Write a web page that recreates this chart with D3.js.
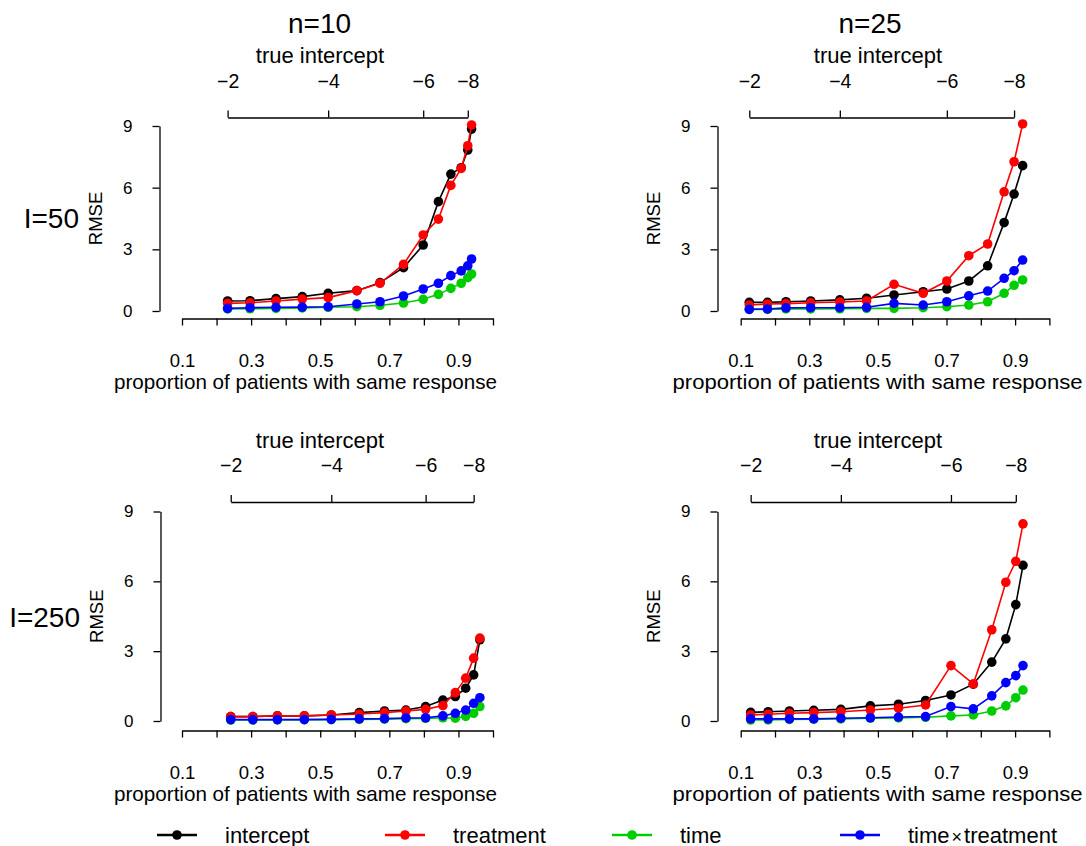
<!DOCTYPE html>
<html><head><meta charset="utf-8">
<script src="https://cdn.jsdelivr.net/npm/d3@7"></script>
<style>
body{margin:0;background:#fff}
text{font-family:"Liberation Sans",Arial,Helvetica,sans-serif;fill:#000}
</style>
</head><body>
<svg id="chart" width="1086" height="846"></svg>
<script>
// ---------------- data ----------------
const seriesNames = ["intercept", "treatment", "time", "time×treatment"];
const seriesColors = ["#000000", "#FF0000", "#00CD00", "#0000FF"];
const trueIntercepts = [-2, -2.5, -3, -3.5, -4, -4.5, -5, -5.5, -6, -6.5, -7, -7.5, -8, -8.5];
const topTickValues = [-2, -4, -6, -8];
const xTickValues = [0.1, 0.2, 0.3, 0.4, 0.5, 0.6, 0.7, 0.8, 0.9, 1.0];
const xTickLabels = [0.1, 0.3, 0.5, 0.7, 0.9];
const yTickValues = [0, 3, 6, 9];
const columnTitles = ["n=10", "n=25"];
const rowTitles = ["I=50", "I=250"];

// proportion of patients with same response, per panel
const propN10I50  = [0.232,0.297,0.372,0.448,0.523,0.606,0.673,0.741,0.798,0.842,0.878,0.908,0.927,0.938];
const propN25I50  = [0.125,0.178,0.232,0.304,0.389,0.467,0.547,0.632,0.701,0.765,0.820,0.868,0.897,0.922];
const propN10I250 = [0.241,0.305,0.376,0.454,0.532,0.613,0.686,0.748,0.805,0.855,0.891,0.921,0.944,0.962];
const propN25I250 = [0.129,0.180,0.242,0.313,0.392,0.478,0.560,0.639,0.713,0.778,0.832,0.873,0.902,0.923];

// RMSE values: [intercept, treatment, time, time x treatment]
const rmseN10I50 = [
  [0.49,0.50,0.60,0.70,0.86,0.99,1.38,2.11,3.21,5.32,6.66,6.97,7.83,8.85],
  [0.37,0.40,0.49,0.58,0.65,0.99,1.35,2.27,3.70,4.47,6.11,6.94,8.04,9.05],
  [0.10,0.11,0.13,0.15,0.18,0.21,0.28,0.39,0.57,0.81,1.10,1.35,1.62,1.80],
  [0.13,0.16,0.18,0.19,0.21,0.34,0.45,0.73,1.07,1.35,1.72,1.95,2.20,2.53]
];
const rmseN25I50 = [
  [0.42,0.42,0.45,0.49,0.54,0.62,0.78,0.94,1.07,1.46,2.20,4.30,5.69,7.07],
  [0.29,0.34,0.36,0.40,0.44,0.49,1.30,0.86,1.46,2.69,3.26,5.80,7.26,9.10],
  [0.08,0.08,0.10,0.10,0.11,0.13,0.13,0.16,0.21,0.29,0.45,0.86,1.25,1.51],
  [0.08,0.10,0.15,0.16,0.16,0.18,0.37,0.29,0.45,0.74,0.97,1.59,1.96,2.48]
];
const rmseN10I250 = [
  [0.19,0.19,0.22,0.22,0.26,0.36,0.43,0.47,0.62,0.90,1.05,1.41,1.98,3.49],
  [0.19,0.19,0.22,0.22,0.26,0.30,0.36,0.43,0.50,0.66,1.22,1.84,2.70,3.56],
  [0.04,0.04,0.05,0.06,0.06,0.07,0.08,0.10,0.11,0.14,0.12,0.20,0.33,0.62],
  [0.06,0.06,0.06,0.06,0.07,0.09,0.10,0.13,0.14,0.22,0.33,0.47,0.76,1.00]
];
const rmseN25I250 = [
  [0.37,0.40,0.43,0.46,0.50,0.65,0.72,0.88,1.12,1.58,2.53,3.53,5.00,6.69],
  [0.26,0.29,0.33,0.36,0.40,0.47,0.55,0.69,2.38,1.59,3.92,5.96,6.86,8.47],
  [0.04,0.05,0.07,0.08,0.09,0.12,0.13,0.16,0.22,0.26,0.43,0.65,1.00,1.33],
  [0.09,0.09,0.09,0.09,0.12,0.14,0.17,0.19,0.62,0.52,1.08,1.65,1.95,2.38]
];

// ---------------- layout ----------------
const panels = [
  {prop: propN10I50,  rmse: rmseN10I50,  xr: [182, 493],      yr: [311, 126],   yAxisX: 159.5, xAxisY: 318.5, topY: 117.5, tiX: 320, xtX: 305.5, xtW: 383},
  {prop: propN25I50,  rmse: rmseN25I50,  xr: [740.7, 1049.4], yr: [311, 126],   yAxisX: 717.5, xAxisY: 318.5, topY: 117.5, tiX: 878, xtX: 877.5, xtW: 410},
  {prop: propN10I250, rmse: rmseN10I250, xr: [182, 493],      yr: [721, 511.5], yAxisX: 160.5, xAxisY: 730.5, topY: 502,   tiX: 320, xtX: 305.5, xtW: 383},
  {prop: propN25I250, rmse: rmseN25I250, xr: [740.7, 1049.4], yr: [721, 511.5], yAxisX: 717.5, xAxisY: 730.5, topY: 502,   tiX: 878, xtX: 877.5, xtW: 410}
];

const svg = d3.select("#chart");
svg.append("rect").attr("width", 1086).attr("height", 846).attr("fill", "#fff");

function styleAxis(g, fs) {
  g.select(".domain").attr("stroke", "#000").attr("stroke-width", 1.3);
  g.selectAll(".tick line").attr("stroke", "#000").attr("stroke-width", 1.3);
  g.selectAll(".tick text").attr("fill", "#000").style("font-family", '"Liberation Sans",Arial,sans-serif').style("font-size", fs + "px");
}

panels.forEach(p => {
  const x = d3.scaleLinear().domain([0.1, 1.0]).range(p.xr);
  const y = d3.scaleLinear().domain([0, 9]).range(p.yr);
  const g = svg.append("g");

  // bottom axis
  const xa = g.append("g").attr("transform", `translate(0,${p.xAxisY})`)
    .call(d3.axisBottom(x).tickValues(xTickValues).tickSize(7).tickSizeOuter(0).tickPadding(28)
      .tickFormat(d => xTickLabels.some(v => Math.abs(v - d) < 1e-9) ? d3.format(".1f")(d) : ""));
  styleAxis(xa, 18.5);
  g.append("text").attr("x", p.xtX).attr("y", p.xAxisY + 70.5)
    .attr("text-anchor", "middle").style("font-size", "21px")
    .attr("textLength", p.xtW).attr("lengthAdjust", "spacingAndGlyphs")
    .text("proportion of patients with same response");

  // left axis
  const ya = g.append("g").attr("transform", `translate(${p.yAxisX},0)`)
    .call(d3.axisLeft(y).tickValues(yTickValues).tickSize(7).tickSizeOuter(0).tickPadding(20));
  styleAxis(ya, 17);
  g.append("text").attr("transform", `translate(${p.yAxisX - 58},${(p.yr[0] + p.yr[1]) / 2}) rotate(-90)`)
    .attr("text-anchor", "middle").style("font-size", "18.5px").text("RMSE");

  // top axis: true intercept, mapped onto the proportion positions of the points
  const idx = trueIntercepts.map((v, i) => i).filter(i => trueIntercepts[i] >= -8);
  const top = d3.scaleLinear().domain(idx.map(i => trueIntercepts[i])).range(idx.map(i => x(p.prop[i])));
  const ta = g.append("g").attr("transform", `translate(0,${p.topY})`)
    .call(d3.axisTop(top).tickValues(topTickValues).tickSize(7).tickSizeOuter(0).tickPadding(23).tickFormat(d3.format("d")));
  styleAxis(ta, 19.5);
  g.append("text").attr("x", p.tiX).attr("y", p.topY - 54.5).attr("text-anchor", "middle")
    .style("font-size", "22px").text("true intercept");

  // series
  p.rmse.forEach((vals, s) => {
    const pts = vals.map((v, i) => [x(p.prop[i]), y(v)]);
    g.append("path").attr("d", d3.line()(pts)).attr("fill", "none")
      .attr("stroke", seriesColors[s]).attr("stroke-width", 1.6);
    g.selectAll(null).data(pts).enter().append("circle")
      .attr("cx", d => d[0]).attr("cy", d => d[1]).attr("r", 4.8)
      .attr("fill", seriesColors[s]);
  });
});

// column / row titles
[319.5, 870].forEach((cx, i) => {
  svg.append("text").attr("x", cx).attr("y", 33).attr("text-anchor", "middle")
    .style("font-size", "28px").text(columnTitles[i]);
});
[[79, 228], [80, 627]].forEach((pos, i) => {
  svg.append("text").attr("x", pos[0]).attr("y", pos[1]).attr("text-anchor", "end")
    .style("font-size", "28px").text(rowTitles[i]);
});

// legend
const legX = [157, 385, 612, 840];
const legY = 835;
seriesNames.forEach((name, i) => {
  const lg = svg.append("g");
  lg.append("line").attr("x1", legX[i]).attr("x2", legX[i] + 40).attr("y1", legY).attr("y2", legY)
    .attr("stroke", seriesColors[i]).attr("stroke-width", 2.4);
  lg.append("circle").attr("cx", legX[i] + 20).attr("cy", legY).attr("r", 4.8).attr("fill", seriesColors[i]);
  const t = lg.append("text").attr("x", legX[i] + 68).attr("y", legY + 7.5).style("font-size", "22px");
  if (name.includes("×")) {
    const parts = name.split("×");
    t.append("tspan").text(parts[0]);
    t.append("tspan").attr("dx", 2).style("font-size", "18px").text("×");
    t.append("tspan").attr("dx", 2).text(parts[1]);
  } else {
    t.text(name);
  }
});
</script>
</body></html>
